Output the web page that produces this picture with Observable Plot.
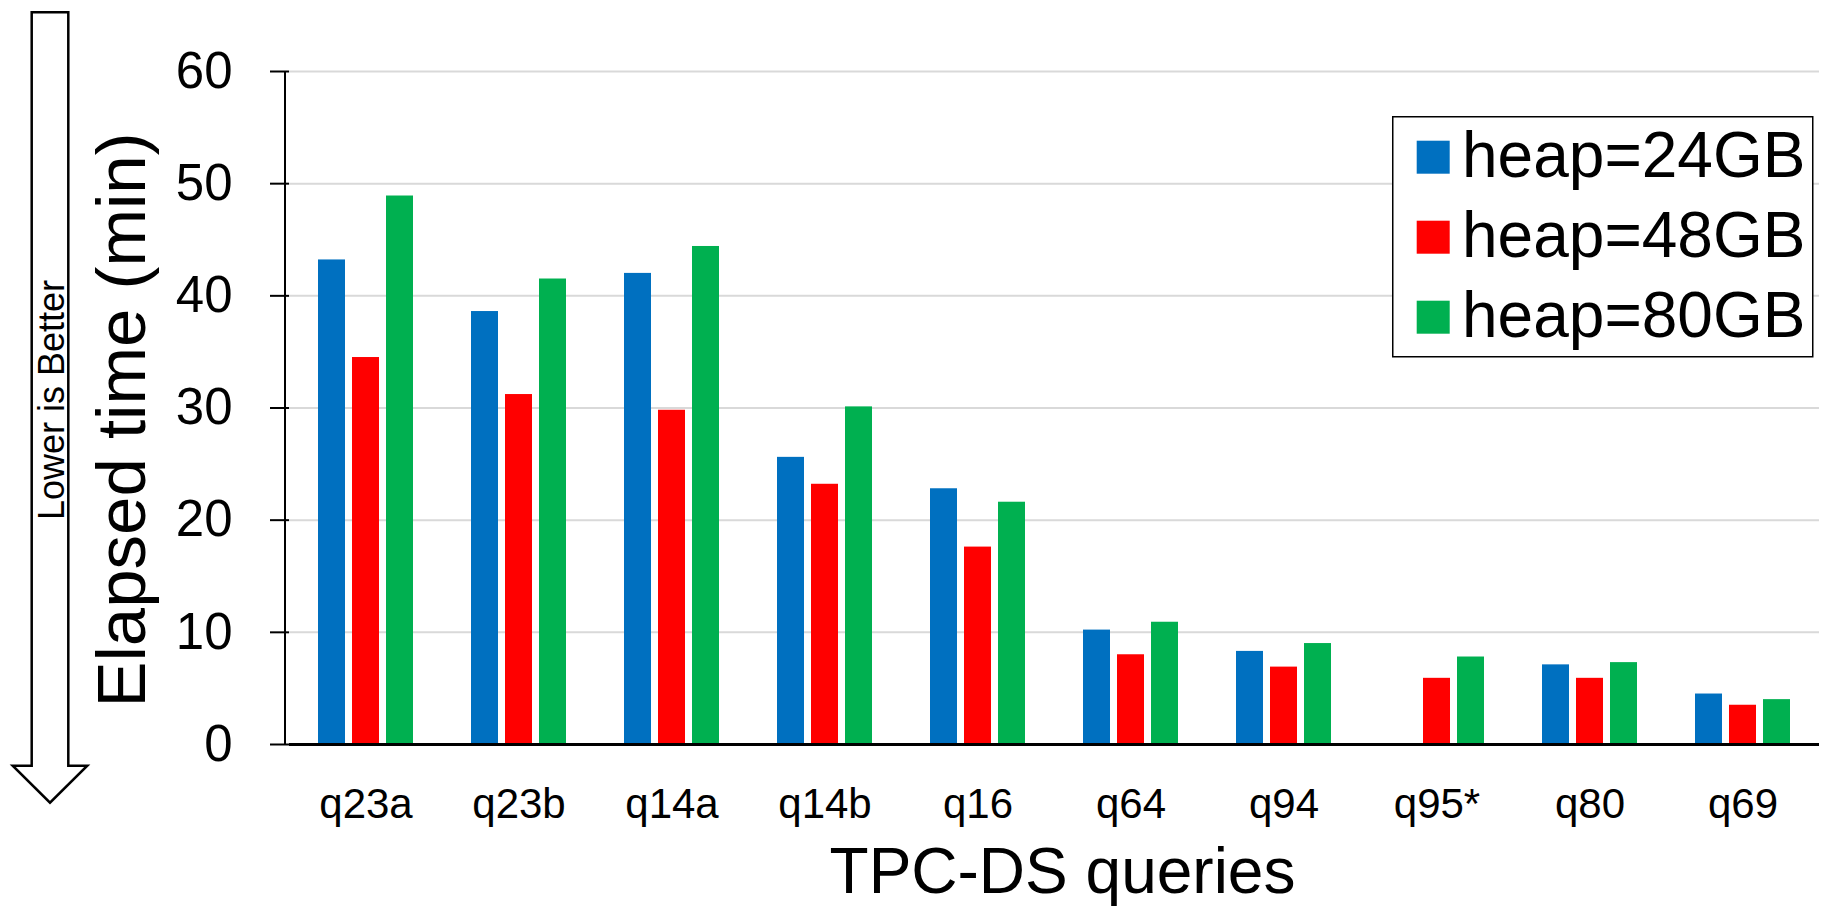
<!DOCTYPE html>
<html>
<head>
<meta charset="utf-8">
<script src="https://cdn.jsdelivr.net/npm/d3@7"></script>
<script src="https://cdn.jsdelivr.net/npm/@observablehq/plot@0.6"></script>
<style>
  html, body { margin: 0; padding: 0; background: white; }
  #wrap { position: relative; width: 1829px; height: 907px; overflow: hidden; font-family: 'Liberation Sans', Arial, sans-serif; }
  #wrap svg { display: block; }
  g[aria-label="y-axis label"] { font-size: 69px; }
  g[aria-label="fx-axis label"] { font-size: 64px; }
  .overlay { position: absolute; }
</style>
</head>
<body>
<div id="wrap"></div>
<script>
// ---- data ----
const queries = ["q23a", "q23b", "q14a", "q14b", "q16", "q64", "q94", "q95*", "q80", "q69"];
const series = ["heap=24GB", "heap=48GB", "heap=80GB"];
const colors = ["#0070C0", "#FF0000", "#00B050"];
const heap24 = [43.2, 38.6, 42.0, 25.6, 22.8, 10.2, 8.3, null, 7.1, 4.5];
const heap48 = [34.5, 31.2, 29.8, 23.2, 17.6, 8.0, 6.9, 5.9, 5.9, 3.5];
const heap80 = [48.9, 41.5, 44.4, 30.1, 21.6, 10.9, 9.0, 7.8, 7.3, 4.0];
const yTicks = [0, 10, 20, 30, 40, 50, 60];
const yLabel = "Elapsed time (min)";
const xLabel = "TPC-DS queries";
const noteText = "Lower is Better";

const rows = [];
[heap24, heap48, heap80].forEach((vals, si) => {
  vals.forEach((v, qi) => {
    if (v != null) rows.push({query: queries[qi], series: series[si], value: v});
  });
});

const font = "'Liberation Sans', Arial, sans-serif";

const plot = Plot.plot({
  width: 1829,
  height: 907,
  marginTop: 71,
  marginBottom: 163,
  marginLeft: 285,
  marginRight: 6,
  style: {fontFamily: font, color: "black", background: "white", overflow: "visible"},
  fx: {domain: queries, padding: 0, label: xLabel},
  x: {domain: series, paddingInner: 0.22, paddingOuter: 0.83, axis: null},
  y: {domain: [0, 60], ticks: yTicks, label: yLabel, labelArrow: "none"},
  color: {domain: series, range: colors},
  marks: [
    Plot.gridY(yTicks, {stroke: "#d9d9d9", strokeWidth: 2, strokeOpacity: 1}),
    Plot.barY(rows, {fx: "query", x: "series", y: "value", fill: "series"}),
    Plot.ruleY([0], {stroke: "black", strokeWidth: 3}),
    Plot.axisY(yTicks, {
      tickSize: 19, tickPadding: 38, fontSize: 51, stroke: "black", strokeWidth: 2,
      label: yLabel, labelArrow: "none", labelAnchor: "center", labelOffset: 194
    }),
    Plot.axisFx({
      anchor: "bottom", tickSize: 0, tickPadding: 44, fontSize: 42,
      label: xLabel, labelAnchor: "center", labelOffset: 148
    })
  ]
});

const wrap = document.getElementById("wrap");
wrap.appendChild(plot);

// axis titles: no direction arrow, and nudged to the reference placement
const yl = d3.select(plot).select('g[aria-label="y-axis label"]');
yl.selectAll("text").text(yLabel);
yl.attr("transform", (yl.attr("transform") || "") + " translate(0,12)");
const xl = d3.select(plot).select('g[aria-label="fx-axis label"]');
xl.selectAll("text").text(xLabel);
xl.attr("transform", (xl.attr("transform") || "") + " translate(8,0)");

// y-axis line drawn from the library's scales
const ys = plot.scale("y");
const fxs = plot.scale("fx");
const x0 = fxs.range[0];
d3.select(plot).append("line")
  .attr("x1", x0).attr("x2", x0)
  .attr("y1", ys.apply(60)).attr("y2", ys.apply(0))
  .attr("stroke", "black").attr("stroke-width", 2);

// "Lower is Better" arrow annotation
const arrow = d3.select(wrap).append("svg")
  .attr("class", "overlay")
  .style("left", "0px").style("top", "0px")
  .attr("width", 100).attr("height", 820);
arrow.append("path")
  .attr("d", "M31.7,12.3 L68.3,12.3 L68.3,765.7 L87.3,765.7 L50,802.7 L12.7,765.7 L31.7,765.7 Z")
  .attr("fill", "white").attr("stroke", "black").attr("stroke-width", 2.5)
  .attr("stroke-linejoin", "miter");
arrow.append("text")
  .attr("transform", "translate(63.5,400) rotate(-90)")
  .attr("text-anchor", "middle")
  .attr("font-family", font)
  .attr("font-size", 36)
  .attr("fill", "black")
  .text(noteText);

// legend
const leg = d3.select(wrap).append("svg")
  .attr("class", "overlay")
  .style("left", "1392px").style("top", "116px")
  .attr("width", 423).attr("height", 242);
leg.append("rect")
  .attr("x", 0.75).attr("y", 0.75).attr("width", 420).attr("height", 240)
  .attr("fill", "white").attr("stroke", "black").attr("stroke-width", 1.5);
series.forEach((s, i) => {
  leg.append("rect")
    .attr("x", 24.7).attr("y", 24.7 + i * 80).attr("width", 33).attr("height", 33)
    .attr("fill", colors[i]);
  leg.append("text")
    .attr("x", 70).attr("y", 60.7 + i * 80)
    .attr("font-family", font).attr("font-size", 64).attr("fill", "black")
    .text(s);
});
</script>
</body>
</html>
